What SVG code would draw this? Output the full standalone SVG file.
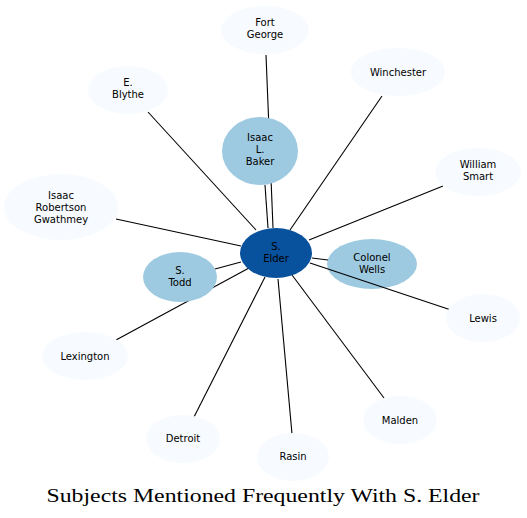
<svg xmlns="http://www.w3.org/2000/svg" width="527" height="518" viewBox="0 0 527 518">
<style>
.leaf{fill:#f7fbff}
.mid{fill:#9ecae1}
.core{fill:#08519c}
text{font-family:"DejaVu Sans","Liberation Sans",sans-serif;font-size:10px;fill:#000;text-anchor:middle}
.title{font-family:"Liberation Serif","DejaVu Serif",serif;font-size:18px}
#edges line{stroke:#000;stroke-width:1.1}
</style>
<rect width="527" height="518" fill="#fff"/>
<g id="n-wells"><ellipse class="mid" cx="372" cy="264" rx="45" ry="25"/><text x="372" y="261">Colonel</text><text x="372" y="273">Wells</text></g>
<g id="edges">
<line x1="273" y1="228" x2="266" y2="55"/>
<line x1="268" y1="228" x2="265" y2="185"/>
<line x1="290" y1="230" x2="382" y2="96"/>
<line x1="256" y1="230" x2="148" y2="112"/>
<line x1="309" y1="240" x2="443" y2="186"/>
<line x1="241" y1="246" x2="116" y2="219"/>
<line x1="241" y1="262" x2="215" y2="269"/>
<line x1="249" y1="268" x2="116" y2="340"/>
<line x1="312" y1="258" x2="328" y2="260"/>
<line x1="310" y1="263" x2="451" y2="310"/>
<line x1="265" y1="277" x2="194" y2="417"/>
<line x1="278" y1="279" x2="292" y2="434"/>
<line x1="292" y1="275" x2="384" y2="398"/>
</g>
<g id="n-fortgeorge"><ellipse class="leaf" cx="265" cy="30" rx="44" ry="24"/><text x="265" y="26">Fort</text><text x="265" y="38">George</text></g>
<g id="n-winchester"><ellipse class="leaf" cx="398" cy="72" rx="47" ry="24"/><text x="398" y="76">Winchester</text></g>
<g id="n-blythe"><ellipse class="leaf" cx="128" cy="90" rx="40" ry="24"/><text x="128" y="86">E.</text><text x="128" y="98">Blythe</text></g>
<g id="n-baker"><ellipse class="mid" cx="260" cy="151" rx="38" ry="34"/><text x="260" y="141">Isaac</text><text x="260" y="153">L.</text><text x="260" y="165">Baker</text></g>
<g id="n-smart"><ellipse class="leaf" cx="478" cy="172" rx="43" ry="24"/><text x="478" y="168">William</text><text x="478" y="180">Smart</text></g>
<g id="n-gwathmey"><ellipse class="leaf" cx="61" cy="207" rx="57" ry="33"/><text x="61" y="199">Isaac</text><text x="61" y="211">Robertson</text><text x="61" y="223">Gwathmey</text></g>
<g id="n-todd"><ellipse class="mid" cx="180" cy="277" rx="37" ry="25"/><text x="180" y="274">S.</text><text x="180" y="286">Todd</text></g>
<g id="n-elder"><ellipse class="core" cx="276" cy="253" rx="36" ry="25"/><text x="276" y="250">S.</text><text x="276" y="262">Elder</text></g>
<g id="n-lewis"><ellipse class="leaf" cx="483" cy="318" rx="37" ry="24"/><text x="483" y="322">Lewis</text></g>
<g id="n-lexington"><ellipse class="leaf" cx="85" cy="356" rx="43" ry="24"/><text x="85" y="360">Lexington</text></g>
<g id="n-detroit"><ellipse class="leaf" cx="183" cy="439" rx="37" ry="24"/><text x="183" y="442">Detroit</text></g>
<g id="n-rasin"><ellipse class="leaf" cx="293" cy="457" rx="36" ry="24"/><text x="293" y="460">Rasin</text></g>
<g id="n-malden"><ellipse class="leaf" cx="400" cy="420" rx="37" ry="24"/><text x="400" y="424">Malden</text></g>
<text class="title" x="263" y="502" textLength="433" lengthAdjust="spacingAndGlyphs">Subjects Mentioned Frequently With S. Elder</text>
</svg>
